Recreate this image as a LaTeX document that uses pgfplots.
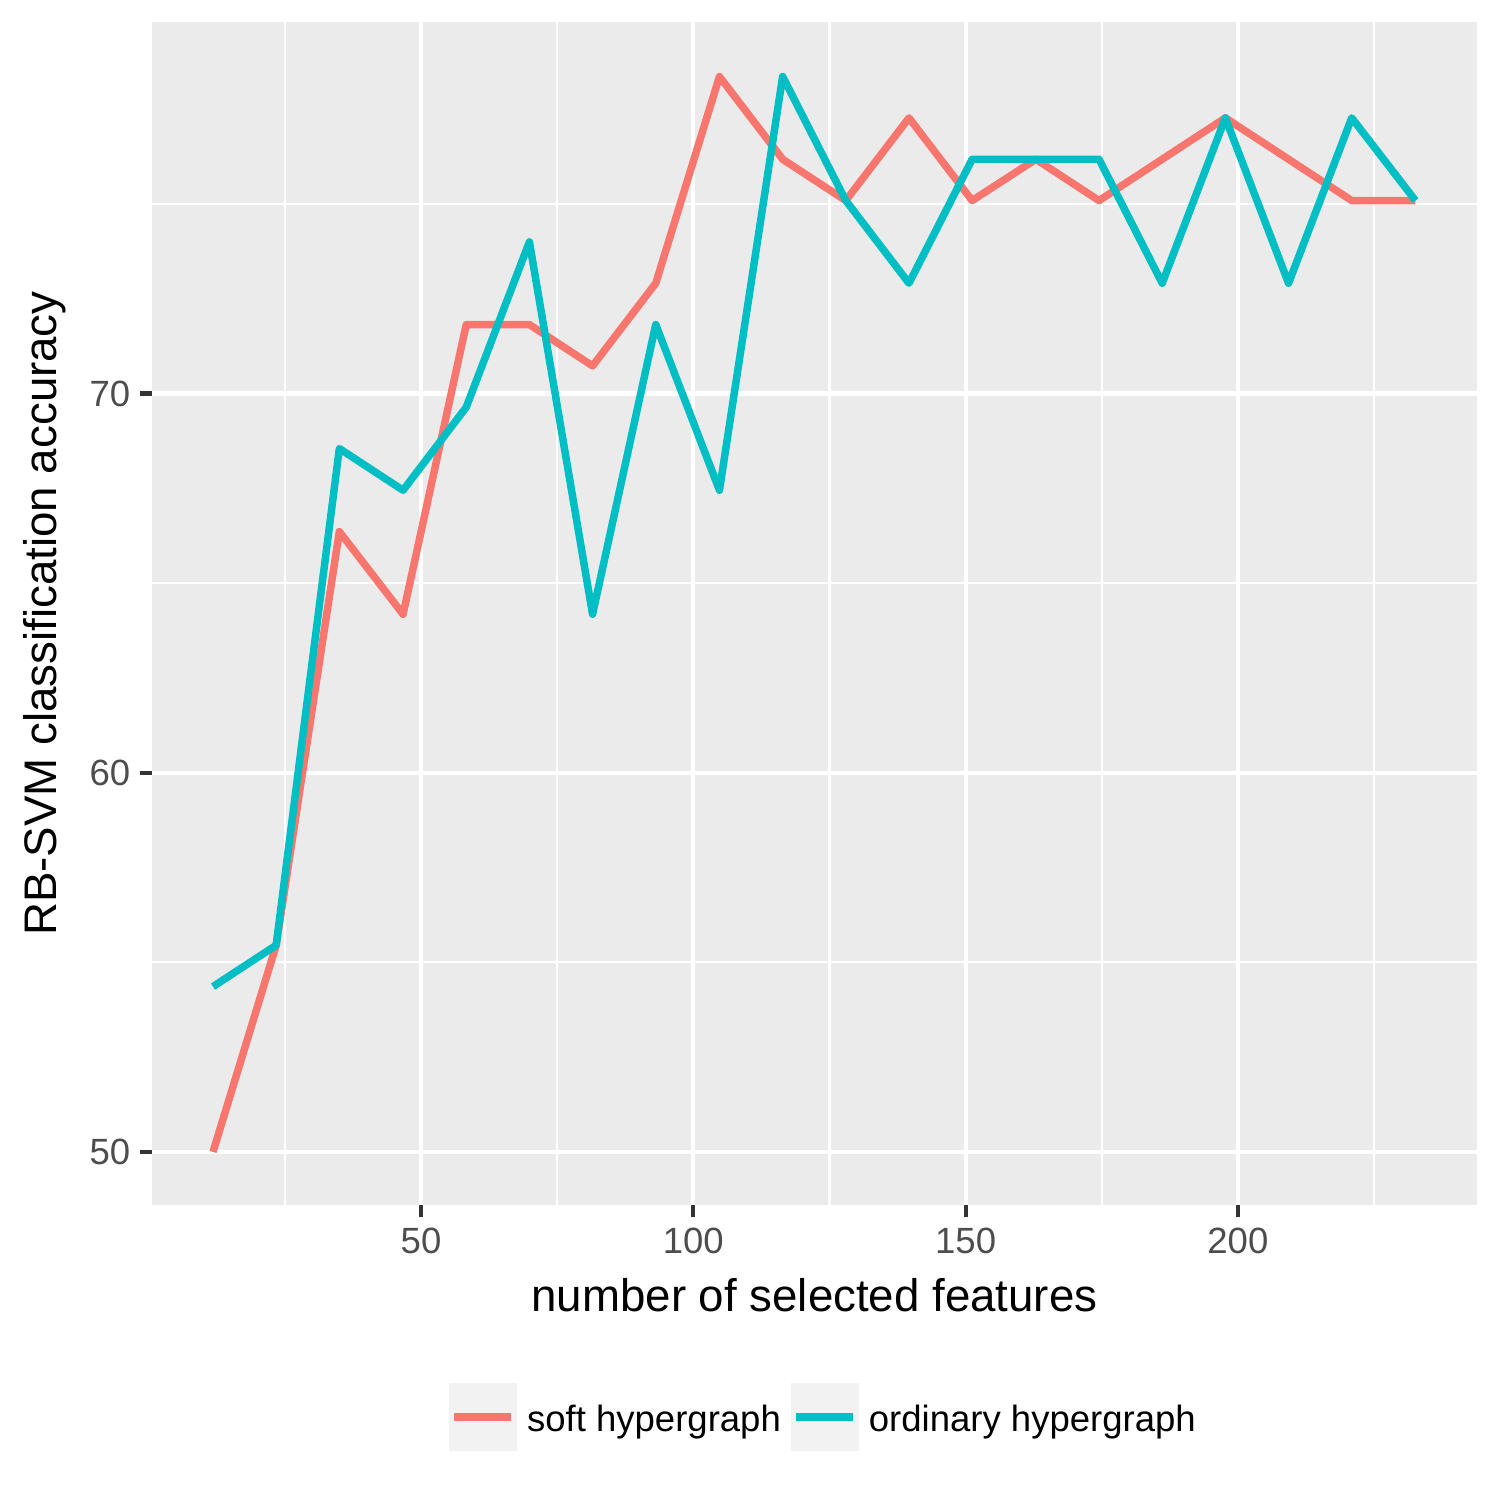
\documentclass[border=0pt]{standalone}
\usepackage{pgfplots}
\pgfplotsset{compat=1.18}
\usepackage{fontspec}
\setmainfont{Liberation Sans}
\definecolor{ggbg}{HTML}{EBEBEB}
\definecolor{ggkey}{HTML}{F2F2F2}
\definecolor{ggred}{HTML}{F8766D}
\definecolor{ggcyan}{HTML}{00BFC4}
\definecolor{ggtick}{HTML}{333333}
\definecolor{ggtext}{HTML}{4D4D4D}
\begin{document}
\begin{tikzpicture}
\begin{axis}[
 name=ax,
 scale only axis, width=319.2pt, height=285.0pt,
 xmin=0.6, xmax=243.9, ymin=48.6, ymax=79.8,
 axis background/.style={fill=ggbg},
 axis line style={draw=none},
 xtick={50,100,150,200}, ytick={50,60,70},
 minor xtick={25,75,125,175,225}, minor ytick={55,65,75},
 grid=both,
 major grid style={white, line width=1.0pt},
 minor grid style={white, line width=0.5pt},
 tick align=outside, major tick length=2.9pt, minor tick length=0pt,
 tick style={color=ggtick, line width=1.0pt},
 xtick pos=bottom, ytick pos=left,
 ticklabel style={font=\fontsize{8.8}{10}\selectfont, text=ggtext},
 xticklabel style={yshift=1pt},
 yticklabel style={xshift=1.2pt},
 /pgf/number format/assume math mode=true,
 xlabel={number of selected features},
 ylabel={RB-SVM classification accuracy},
 label style={font=\fontsize{11}{13}\selectfont},
 xlabel style={at={(axis description cs:0.5,-0.0765)}, anchor=center},
 ylabel style={at={(axis description cs:-0.0808,0.5)}, anchor=center},
 legend columns=2,
 legend style={at={(axis description cs:0.2242,-0.1505)}, anchor=north west,
   draw=none, fill=none, inner sep=0pt, outer sep=0pt, column sep=2.4pt,
   font=\fontsize{8.8}{10}\selectfont,
   nodes={inner sep=0pt, anchor=base west}},
 legend image code/.code={
   \fill[ggkey, draw=none] (0pt,-4.8pt) rectangle (16.4pt,11.56pt);
   \draw[#1, line cap=butt, line width=1.9pt] (1.2pt,3.4pt) -- (14.9pt,3.4pt);
 },
]
\addplot[ggred, line width=1.8pt, line join=round] table {
x y
11.8 50.00
23.4 55.45
35.0 66.36
46.7 64.18
58.3 71.82
69.9 71.82
81.5 70.73
93.1 72.91
104.8 78.36
116.4 76.18
128.0 75.09
139.6 77.27
151.2 75.09
162.9 76.18
174.5 75.09
186.1 76.18
197.7 77.27
209.3 76.18
220.9 75.09
232.6 75.09
};
\addlegendentry{soft hypergraph}
\addplot[ggcyan, line width=1.8pt, line join=round] table {
x y
11.8 54.36
23.4 55.45
35.0 68.55
46.7 67.45
58.3 69.64
69.9 74.00
81.5 64.18
93.1 71.82
104.8 67.45
116.4 78.36
128.0 75.09
139.6 72.91
151.2 76.18
162.9 76.18
174.5 76.18
186.1 72.91
197.7 77.27
209.3 72.91
220.9 77.27
232.6 75.09
};
\addlegendentry{ordinary hypergraph}
\end{axis}
\pgfresetboundingbox
\path ([xshift=-36.62pt,yshift=-71.07pt]ax.south west) rectangle ([xshift=5.54pt,yshift=5.30pt]ax.north east);
\end{tikzpicture}
\end{document}
